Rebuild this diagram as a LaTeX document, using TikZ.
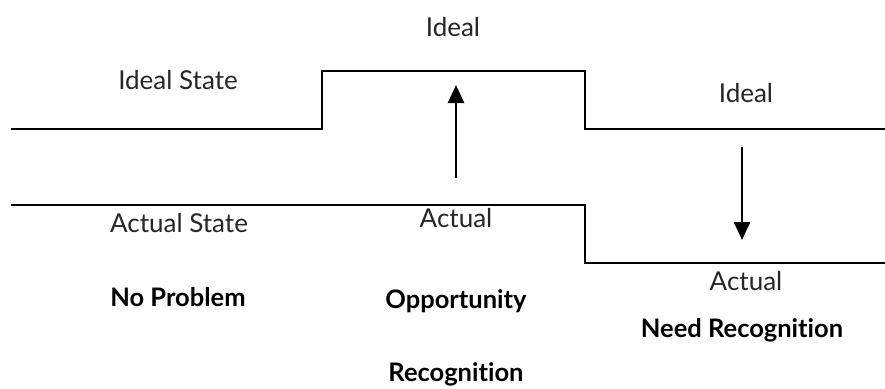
\documentclass[tikz,border=0pt]{standalone}
\usepackage{fontspec}
\setmainfont{Lato}[Ligatures=NoCommon]
\usetikzlibrary{arrows.meta}
\begin{document}
\begin{tikzpicture}[x=1pt,y=-1pt,
  lvl/.style={line width=2.6pt, line join=miter},
  lbl/.style={font=\fontsize{26}{30}\selectfont, text=black!85, inner sep=0pt, anchor=base},
  blbl/.style={font=\fontsize{25.5}{30}\selectfont\bfseries, inner sep=0pt, anchor=base},
  arr/.style={line width=2.4pt, -{Triangle[width=16pt,length=18pt]}}]
\useasboundingbox (0,0) rectangle (885,388);
% ideal line
\coordinate (i0) at (11,129);
\coordinate (i1) at (322,129);
\coordinate (i2) at (322,71);
\coordinate (i3) at (585,71);
\coordinate (i4) at (585,129);
\coordinate (i5) at (885,129);
\draw[lvl] (i0) -- (i1) -- (i2) -- (i3) -- (i4) -- (i5);
% actual line
\coordinate (a0) at (11,205);
\coordinate (a1) at (585,205);
\coordinate (a2) at (585,263);
\coordinate (a3) at (885,263);
\draw[lvl] (a0) -- (a1) -- (a2) -- (a3);
% arrows
\coordinate (u0) at (456,178);
\coordinate (u1) at (456,85);
\draw[arr] (u0) -- (u1);
\coordinate (d0) at (742,147);
\coordinate (d1) at (742,240);
\draw[arr] (d0) -- (d1);
% labels
\node[lbl] (idealtop) at (453,36) {Ideal};
\node[lbl] (idealstate) at (178,89) {Ideal State};
\node[lbl] (idealright) at (746,102) {Ideal};
\node[lbl] (actualstate) at (179,232) {Actual State};
\node[lbl] (actualmid) at (456,227) {Actual};
\node[lbl] (actualright) at (746,290) {Actual};
\node[blbl] (noproblem) at (178,306) {No Problem};
\node[blbl] (opportunity) at (456,308) {Opportunity};
\node[blbl] (recognition) at (456,381) {Recognition};
\node[blbl] (needrec) at (742,337) {Need Recognition};
\end{tikzpicture}
\end{document}
